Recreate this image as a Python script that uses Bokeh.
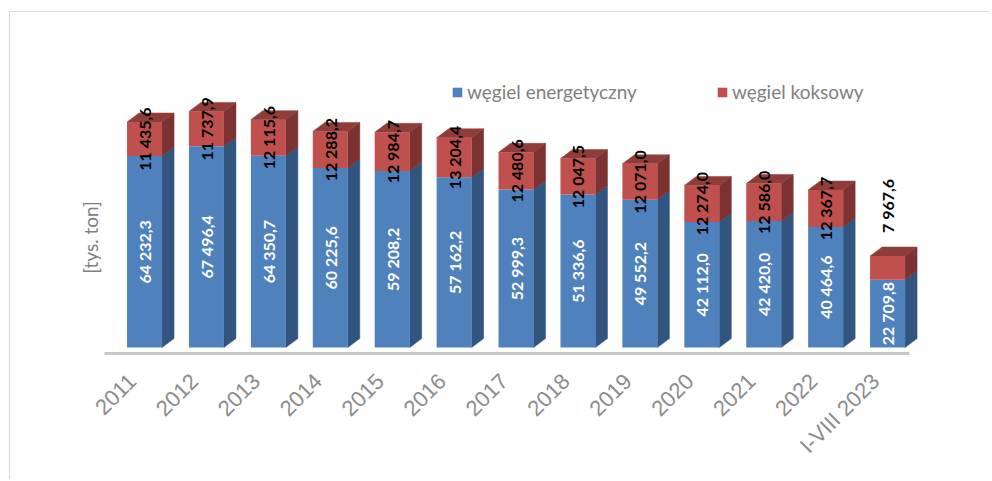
import math
from bokeh.plotting import figure
from bokeh.models import FixedTicker, Legend, LegendItem
from bokeh.core.properties import value
from bokeh.embed import file_html
from bokeh.resources import INLINE

categories = ["2011", "2012", "2013", "2014", "2015", "2016", "2017", "2018", "2019", "2020", "2021", "2022", "I-VIII 2023"]
energetyczny = [64232.3, 67496.4, 64350.7, 60225.6, 59208.2, 57162.2, 52999.3, 51336.6, 49552.2, 42112.0, 42420.0, 40464.6, 22709.8]
koksowy = [11435.6, 11737.9, 12115.6, 12288.2, 12984.7, 13204.4, 12480.6, 12047.5, 12071.0, 12274.0, 12586.0, 12367.7, 7967.6]

BLUE, BLUE_SIDE = "#4f81bd", "#31557f"
RED, RED_SIDE, RED_TOP = "#c0504d", "#7b3230", "#8f3c3a"
GREY = "#7f7f7f"
FONT = "Lato"

# canvas origin on the page, set by the margin + 1px CSS border
OX, OY = 10, 12
W, H = 981, 468
FRAME_BOTTOM = 355       # page y of the frame's lower edge
BASE = 347               # page y of value 0
PX_PER_X = 61.92
PX_PER_Y = 0.00298
INDEX0_LEFT = 101        # page x of index -0.5
x_start = -0.5 - (INDEX0_LEFT - OX) / PX_PER_X
x_end = x_start + W / PX_PER_X
y_start = -(FRAME_BOTTOM - BASE) / PX_PER_Y
y_end = y_start + (FRAME_BOTTOM - OY) / PX_PER_Y
SHIFT = 0.195
BAR = 35 / PX_PER_X
DX = 12 / PX_PER_X
DY = 9 / PX_PER_Y


def fmt(v):
    return f"{v:,.1f}".replace(",", " ").replace(".", ",")


p = figure(width=W, height=H, x_range=(x_start, x_end), y_range=(y_start, y_end),
           output_backend="svg", toolbar_location=None,
           min_border_left=0, min_border_right=0, min_border_top=0,
           min_border_bottom=OY + H - FRAME_BOTTOM,
           outline_line_color=None, background_fill_color="white", border_fill_color="white",
           margin=(11, 0, 0, 9),
           styles={"border-left": "1px solid #d9d9d9", "border-top": "1px solid #d9d9d9"})
p.grid.visible = False
p.yaxis.visible = False

ax = p.xaxis[0]
ax.ticker = FixedTicker(ticks=list(range(13)))
ax.major_label_overrides = {i: c for i, c in enumerate(categories)}
ax.major_label_orientation = math.pi / 4
ax.major_label_text_font = "Liberation Sans"
ax.major_label_text_font_size = "22px"
ax.major_label_text_color = "#8c8c8c"
ax.major_label_standoff = 16
ax.major_tick_line_color = None
ax.minor_tick_line_color = None
ax.axis_line_color = None

# floor line under the bars
p.segment(x0=[-0.5 + 3 / PX_PER_X], x1=[12.5 + 3 / PX_PER_X],
          y0=[-6 / PX_PER_Y], y1=[-6 / PX_PER_Y], line_color="#c8c8c8", line_width=3)

xs = [i + SHIFT for i in range(13)]
right = [x + BAR / 2 for x in xs]
left = [x - BAR / 2 for x in xs]
tops = [a + b for a, b in zip(energetyczny, koksowy)]

p.patches([[r, r + DX, r + DX, r] for r in right],
          [[0, DY, e + DY, e] for e in energetyczny],
          fill_color=BLUE_SIDE, line_color=BLUE_SIDE, line_width=0.5)
p.patches([[r, r + DX, r + DX, r] for r in right],
          [[e, e + DY, t + DY, t] for e, t in zip(energetyczny, tops)],
          fill_color=RED_SIDE, line_color=RED_SIDE, line_width=0.5)
p.patches([[l, l + DX, r + DX, r] for l, r in zip(left, right)],
          [[t, t + DY, t + DY, t] for t in tops],
          fill_color=RED_TOP, line_color=RED_TOP, line_width=0.5)
r1 = p.vbar(x=xs, width=BAR, bottom=0, top=energetyczny, fill_color=BLUE, line_color=None)
r2 = p.vbar(x=xs, width=BAR, bottom=energetyczny, top=tops, fill_color=RED, line_color=None)

angle = math.pi / 2
style = dict(angle=angle, text_align="center", text_baseline="middle",
             text_font=value(FONT), text_font_style="bold", text_font_size="16px")
p.text(xs, [e / 2 for e in energetyczny], text=[fmt(v) for v in energetyczny],
       text_color="white", **style)
p.text(xs[:-1], [e + k / 2 for e, k in zip(energetyczny[:-1], koksowy[:-1])],
       text=[fmt(v) for v in koksowy[:-1]], text_color="black", **style)
p.text(xs[-1:], [energetyczny[-1] + koksowy[-1] / 2], text=[fmt(koksowy[-1])], y_offset=-62,
       text_color="black", **style)

legend = Legend(items=[LegendItem(label="węgiel energetyczny", renderers=[r1]),
                       LegendItem(label="węgiel koksowy", renderers=[r2])],
                orientation="horizontal", location=(441, 252),
                background_fill_alpha=0, border_line_color=None,
                glyph_width=12, glyph_height=12, label_standoff=4, spacing=79,
                padding=0, margin=0,
                label_text_font=FONT, label_text_font_size="19px", label_text_color=GREY)
p.add_layout(legend)

# y-axis title, placed in the frame because the frame spans the whole width
p.text([-0.5 + (90 - INDEX0_LEFT) / PX_PER_X], [(BASE - 237) / PX_PER_Y], text=["[tys. ton]"],
       angle=angle, text_align="center", text_baseline="middle",
       text_color=GREY, text_font=value(FONT), text_font_size="19px")

open("out.html", "w").write(file_html(p, INLINE))
